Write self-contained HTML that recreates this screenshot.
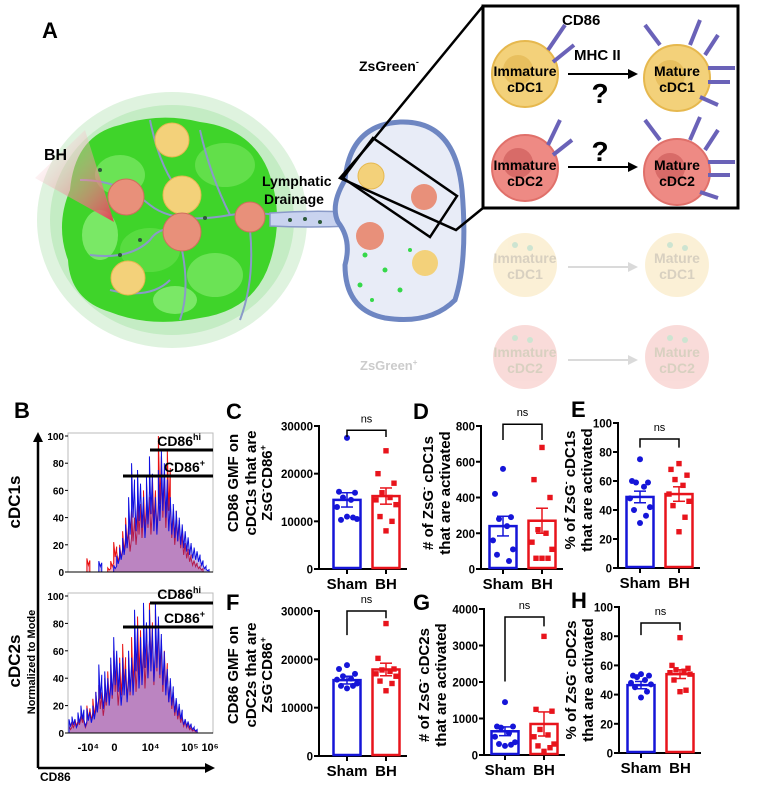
<!DOCTYPE html>
<html><head><meta charset="utf-8"><style>
html,body{margin:0;padding:0;background:#fff;}
svg{display:block;font-family:"Liberation Sans",Arial,sans-serif;}
.b{font-weight:bold;}
</style></head><body>
<svg id="fig" width="763" height="785" viewBox="0 0 763 785">
<g>
<text x="42" y="38" class="b" font-size="22">A</text>
<ellipse cx="172" cy="220" rx="135" ry="128" fill="#dff3df"/>
<ellipse cx="172" cy="220" rx="122" ry="115" fill="#c4ecc4"/>
<path d="M70 190 Q75 135 120 125 Q160 112 200 122 Q250 128 268 170 Q285 215 270 262 Q255 310 200 318 Q150 328 110 312 Q70 300 68 260 Q55 225 70 190Z" fill="#3fd42a"/>
<ellipse cx="120" cy="175" rx="25" ry="20" fill="#6be355"/><ellipse cx="225" cy="165" rx="30" ry="22" fill="#62df4a"/>
<ellipse cx="150" cy="250" rx="30" ry="22" fill="#58dc40"/><ellipse cx="215" cy="275" rx="28" ry="22" fill="#6be355"/>
<ellipse cx="100" cy="235" rx="18" ry="25" fill="#7ae866"/><ellipse cx="175" cy="300" rx="22" ry="14" fill="#7ae866"/>
<g stroke="#8a9ac8" stroke-width="2" fill="none">
<path d="M80 180 Q120 180 150 205 Q175 225 230 215 Q260 210 290 218 L350 220"/>
<path d="M90 255 Q130 260 150 240 Q160 225 182 230"/>
<path d="M150 120 Q160 170 182 195"/><path d="M200 130 Q210 175 230 215"/>
<path d="M182 250 Q190 290 180 320"/><path d="M250 230 Q255 280 240 320"/>
<path d="M110 290 Q150 300 170 280"/>
</g>
<path d="M270 213 Q310 210 350 212 L350 226 Q310 228 270 226Z" fill="#c9d3ef" stroke="#8a9ac8" stroke-width="1.5"/>
<g fill="#2d5a3a"><circle cx="290" cy="220" r="2"/><circle cx="305" cy="219" r="2"/><circle cx="320" cy="222" r="2"/><circle cx="205" cy="218" r="2"/><circle cx="120" cy="255" r="2"/><circle cx="140" cy="240" r="2"/><circle cx="100" cy="170" r="2"/></g>
<defs><linearGradient id="bhg" x1="0" y1="0" x2="1" y2="1"><stop offset="0" stop-color="#fff" stop-opacity="0"/><stop offset="1" stop-color="#e04050"/></linearGradient></defs>
<path d="M35 178 L85 130 L114 222Z" fill="url(#bhg)"/>
<text x="44" y="160" class="b" font-size="16">BH</text>
<g>
<circle cx="172" cy="140" r="17" fill="#f3d17a" stroke="#e6b84e"/><circle cx="182" cy="195" r="19" fill="#f3d17a" stroke="#e6b84e"/>
<circle cx="126" cy="197" r="18" fill="#e8907a" stroke="#cf6e5c"/><circle cx="182" cy="232" r="19" fill="#e8907a" stroke="#cf6e5c"/>
<circle cx="250" cy="217" r="15" fill="#e8907a" stroke="#cf6e5c"/><circle cx="128" cy="278" r="17" fill="#f3d17a" stroke="#e6b84e"/>
</g>
<text x="262" y="186" class="b" font-size="14">Lymphatic</text>
<text x="264" y="204" class="b" font-size="14">Drainage</text>
<path d="M345 180 Q350 125 400 122 Q455 120 462 190 Q468 260 455 300 Q430 325 385 318 Q345 310 345 265 Q352 240 338 222 Q330 205 345 180Z" fill="#e8ecf7" stroke="#6e86c2" stroke-width="5"/>
<g fill="#35d84a"><circle cx="365" cy="255" r="2.5"/><circle cx="385" cy="270" r="2.5"/><circle cx="360" cy="285" r="2.5"/><circle cx="400" cy="290" r="2.5"/><circle cx="372" cy="300" r="2"/><circle cx="410" cy="250" r="2"/></g>
<circle cx="371" cy="176" r="13" fill="#f3d17a" stroke="#e6b84e"/><circle cx="424" cy="197" r="13" fill="#e8907a"/><circle cx="370" cy="236" r="14" fill="#e8907a"/><circle cx="425" cy="263" r="13" fill="#f3d17a"/>
<polygon points="483,6 738,6 738,208 483,208" fill="#fff" stroke="#000" stroke-width="3"/>
<polyline points="483,6 373,140 340,178 456,230 483,208" fill="none" stroke="#000" stroke-width="2.5"/>
<polygon points="373,138 457,196 430,237 343,178" fill="none" stroke="#000" stroke-width="2.5"/>
<text x="359" y="71" class="b" font-size="14">ZsGreen<tspan font-size="9" dy="-6">-</tspan></text>
<text x="562" y="25" class="b" font-size="15">CD86</text>
<text x="574" y="60" class="b" font-size="15">MHC II</text>
<g>
<circle cx="525" cy="74" r="33" fill="#f3d17a" stroke="#e6b84e" stroke-width="2"/><circle cx="518" cy="70" r="15" fill="#e8bf5e"/>
<circle cx="677" cy="78" r="33" fill="#f3d17a" stroke="#e6b84e" stroke-width="2"/><circle cx="670" cy="75" r="15" fill="#e8bf5e"/>
<circle cx="525" cy="168" r="33" fill="#ee8a84" stroke="#e0706a" stroke-width="2"/><circle cx="518" cy="163" r="15" fill="#d86b68"/>
<circle cx="677" cy="172" r="33" fill="#ee8a84" stroke="#e0706a" stroke-width="2"/><circle cx="670" cy="168" r="15" fill="#d86b68"/>
<g stroke="#6a62b8" stroke-width="4"><line x1="548" y1="50" x2="565" y2="25"/><line x1="553" y1="62" x2="574" y2="45"/><line x1="660" y1="45" x2="645" y2="25"/><line x1="690" y1="45" x2="700" y2="20"/><line x1="705" y1="55" x2="718" y2="35"/><line x1="708" y1="68" x2="735" y2="68"/><line x1="708" y1="82" x2="730" y2="82"/><line x1="700" y1="97" x2="718" y2="105"/>
<line x1="548" y1="145" x2="560" y2="120"/><line x1="553" y1="155" x2="572" y2="140"/><line x1="660" y1="140" x2="645" y2="120"/><line x1="690" y1="140" x2="700" y2="117"/><line x1="705" y1="150" x2="718" y2="130"/><line x1="708" y1="162" x2="735" y2="162"/><line x1="708" y1="175" x2="730" y2="175"/><line x1="700" y1="192" x2="718" y2="198"/></g>
</g>
<g class="b" font-size="14" text-anchor="middle">
<text x="525" y="76">Immature</text><text x="525" y="92">cDC1</text>
<text x="677" y="76">Mature</text><text x="677" y="92">cDC1</text>
<text x="525" y="170">Immature</text><text x="525" y="186">cDC2</text>
<text x="677" y="170">Mature</text><text x="677" y="186">cDC2</text>
</g>
<g stroke="#000" stroke-width="2"><line x1="568" y1="74" x2="628" y2="74"/><line x1="568" y1="167" x2="628" y2="167"/></g>
<polygon points="628,69 638,74 628,79" fill="#000"/><polygon points="628,162 638,167 628,172" fill="#000"/>
<text x="600" y="103" class="b" font-size="28" text-anchor="middle">?</text>
<text x="600" y="161" class="b" font-size="28" text-anchor="middle">?</text>
<g>
<g opacity="0.3">
<circle cx="525" cy="265" r="32" fill="#f3d17a"/><circle cx="677" cy="265" r="32" fill="#f3d17a"/>
<circle cx="525" cy="357" r="32" fill="#ee8a84"/><circle cx="677" cy="357" r="32" fill="#ee8a84"/>
<g fill="#5ca86a"><circle cx="515" cy="245" r="3"/><circle cx="530" cy="248" r="3"/><circle cx="670" cy="245" r="3"/><circle cx="685" cy="248" r="3"/><circle cx="515" cy="338" r="3"/><circle cx="530" cy="340" r="3"/><circle cx="670" cy="338" r="3"/><circle cx="685" cy="340" r="3"/></g>
<g stroke="#888" stroke-width="2"><line x1="568" y1="267" x2="628" y2="267"/><line x1="568" y1="360" x2="628" y2="360"/></g>
<polygon points="628,262 638,267 628,272" fill="#888"/><polygon points="628,355 638,360 628,365" fill="#888"/>
</g>
<g fill="#d8d0c0" class="b" font-size="14" text-anchor="middle"><text x="525" y="263">Immature</text><text x="525" y="279">cDC1</text><text x="677" y="263">Mature</text><text x="677" y="279">cDC1</text><text x="525" y="357">Immature</text><text x="525" y="373">cDC2</text><text x="677" y="357">Mature</text><text x="677" y="373">cDC2</text></g>
</g>
<text x="360" y="370" font-size="13" class="b" fill="#ccc">ZsGreen<tspan font-size="8" dy="-5">+</tspan></text>
</g>

<g id="hist">
<text x="14" y="418" class="b" font-size="22">B</text>
<text class="b" font-size="17" transform="translate(20,502) rotate(-90)" text-anchor="middle">cDC1s</text>
<text class="b" font-size="17" transform="translate(20,661) rotate(-90)" text-anchor="middle">cDC2s</text>
<text class="b" font-size="11" transform="translate(35,662) rotate(-90)" text-anchor="middle">Normalized to Mode</text>
<text x="40" y="781" class="b" font-size="12">CD86</text>
<line x1="38" y1="768" x2="38" y2="440" stroke="#000" stroke-width="2.5"/>
<polygon points="33,442 38,432 43,442" fill="#000"/>
<line x1="38" y1="768" x2="206" y2="768" stroke="#000" stroke-width="2.5"/>
<polygon points="205,763 215,768 205,773" fill="#000"/>
</g>

<g id="charts"></g>
</svg>
<script>
const NS="http://www.w3.org/2000/svg";
function mk(tag,attrs,parent,txt){const e=document.createElementNS(NS,tag);for(const k in attrs)e.setAttribute(k,attrs[k]);if(txt!==undefined)e.textContent=txt;parent.appendChild(e);return e;}

const histTicksY=[0,20,40,60,80,100];
const histTicksX=["-10\u2074","0","10\u2074","10\u2075","10\u2076"];
const histTickXPos=[0.14,0.32,0.57,0.84,0.98];
const cdc1Blue=[0,0,0,0,0,0,0,0,0,0,8,0,0,0,0,5,12,18,25,35,55,80,60,75,65,50,70,85,60,55,75,90,80,60,55,50,45,40,35,30,25,20,18,15,10,5,2,0];
const cdc1Red=[0,0,0,0,0,0,10,0,0,0,0,0,0,3,8,22,15,20,30,40,30,45,40,55,50,60,65,55,70,60,100,80,65,90,50,40,45,35,25,20,15,10,8,5,3,0,0,0];
const cdc2Blue=[10,12,8,15,20,10,18,15,20,30,50,35,45,40,55,70,60,40,55,45,60,55,90,65,70,95,80,90,75,95,85,70,55,45,40,30,25,20,12,10,8,5,3,0,0,0,0,0];
const cdc2Red=[5,8,10,12,15,8,20,18,25,30,35,25,40,45,50,60,40,55,65,50,55,70,60,85,75,65,80,95,70,90,80,60,60,45,35,25,20,15,10,8,5,3,2,0,0,0,0,0];

function drawHist(g,top,bot,blue,red,hiY,posY,showX,name){
  const x0=68,x1=213;
  const box=mk('rect',{x:x0,y:top-3,width:x1-x0,height:bot-top+3,fill:'#fff',stroke:'#bbb','stroke-width':1},g);
  
  
  const ys=v=>bot-(v/100)*(bot-top);
  const n=blue.length, bw=(x1-x0-2)/n;
  [[red,'#e81010'],[blue,'#1010e0']].forEach(([arr,col],si)=>{
    let d=`M${x0+1} ${bot}`;
    arr.forEach((v,i)=>{const xa=x0+1+i*bw;d+=` L${xa} ${ys(v)} L${xa+bw*0.5} ${ys(v*0.5)} L${xa+bw} ${ys(v*0.85)}`;});
    d+=` L${x1-1} ${bot}Z`;
    const p=mk('path',{d:d,fill:si?'#5030c0':'#e02050','fill-opacity':0.35,stroke:col,'stroke-width':1},g);
    
    
  });
  histTicksY.forEach(t=>{
    const y=ys(t);
    mk('line',{x1:x0-3,y1:y,x2:x0,y2:y,stroke:'#000'},g);
    const tl=mk('text',{x:x0-4,y:y+4,'text-anchor':'end','font-size':10,'font-weight':'bold'},g,t);
    
    
  });
  mk('line',{x1:x0,y1:bot,x2:x1,y2:bot,stroke:'#000'},g);
  if(showX){histTicksX.forEach((t,i)=>{
    const tl=mk('text',{x:x0+histTickXPos[i]*(x1-x0),y:bot+18,'text-anchor':'middle','font-size':11,'font-weight':'bold'},g,t);
    
    
  });}
  const hl=mk('line',{x1:150,y1:hiY,x2:x1,y2:hiY,stroke:'#000','stroke-width':3},g);
  
  
  const pl=mk('line',{x1:123,y1:posY,x2:x1,y2:posY,stroke:'#000','stroke-width':3},g);
  
  
  const t1=mk('text',{x:x1-12,y:hiY-4,'text-anchor':'end','font-size':14,'font-weight':'bold'},g,'CD86');
  mk('tspan',{'font-size':9,dy:-6},t1,'hi');
  const t2=mk('text',{x:x1-8,y:posY-4,'text-anchor':'end','font-size':14,'font-weight':'bold'},g,'CD86');
  mk('tspan',{'font-size':9,dy:-6},t2,'+');
}
const hg=document.getElementById('hist');
drawHist(hg,436,572,cdc1Blue,cdc1Red,450,476,false,'cdc1');
drawHist(hg,596,733,cdc2Blue,cdc2Red,603,627,true,'cdc2');

const groups=["Sham","BH"];
const cMeans=[14500,15300], cSem=[1500,1700];
const cSham=[27500,16200,16000,15000,14500,13000,10500,10300,10800,11000];
const cBH=[24800,20000,18000,16000,15000,14500,13500,11000,10000,8000];
const cTicks=[0,10000,20000,30000];
const dMeans=[240,270], dSem=[55,70];
const dSham=[560,420,290,280,240,160,110,80,45];
const dBH=[680,500,400,220,200,150,110,60,60,60];
const dTicks=[0,200,400,600,800];
const eMeans=[49,51], eSem=[4,5];
const eSham=[75,60,59,59,56,48,42,40,36,31];
const eBH=[72,68,64,61,57,51,46,43,35,25];
const eTicks=[0,20,40,60,80,100];
const fMeans=[15700,17900], fSem=[800,1300];
const fSham=[18800,18000,17000,16500,16000,15800,15000,14500,14500,14000];
const fBH=[27400,20200,18000,17800,17500,17000,16500,15500,15000,13500];
const fTicks=[0,10000,20000,30000];
const gMeans=[650,850], gSem=[120,330];
const gSham=[1450,780,780,750,600,500,350,300,280,250];
const gBH=[3250,1250,1200,700,550,500,300,250,200,100];
const gTicks=[0,1000,2000,3000,4000];
const hMeans=[46.5,54], hSem=[2.5,3];
const hSham=[54,53,53,52,50,48,47,45,42,38];
const hBH=[79,60,58,57,56,55,54,50,43,42];
const hTicks=[0,20,40,60,80,100];

const cg=document.getElementById('charts');
function chart(o){
  const g=mk('g',{},cg);
  
  
  const yMax=o.ticks[o.ticks.length-1];
  const ys=v=>o.y0-(v/yMax)*(o.y0-o.y1);
  const bw=27, cx=[o.ax+o.off[0], o.ax+o.off[1]];
  const xs=i=>cx[i];
  const lab=mk('text',{x:o.lx,y:o.ly,'font-size':22,'font-weight':'bold'},g,o.id.toUpperCase());
  
  
  mk('line',{x1:o.ax,y1:o.y1-1,x2:o.ax,y2:o.y0,stroke:'#000','stroke-width':2},g);
  mk('line',{x1:o.ax,y1:o.y0,x2:cx[1]+21,y2:o.y0,stroke:'#000','stroke-width':2},g);
  o.ticks.forEach(t=>{
    mk('line',{x1:o.ax-5,y1:ys(t),x2:o.ax,y2:ys(t),stroke:'#000','stroke-width':2},g);
    const tl=mk('text',{x:o.ax-6,y:ys(t)+4.5,'text-anchor':'end','font-size':11.5,'font-weight':'bold'},g,t);
    
    
  });
  const cols=['#1515d8','#e8141c'];
  const pts=[o.sham,o.bh];
  groups.forEach((gname,i)=>{
    const x=xs(i);
    mk('line',{x1:x,y1:o.y0,x2:x,y2:o.y0+5,stroke:'#000','stroke-width':2},g);
    const xl=mk('text',{x:x,y:o.y0+20,'text-anchor':'middle','font-size':15,'font-weight':'bold'},g,gname);
    
    
    const b=mk('rect',{x:x-bw/2,y:ys(o.means[i]),width:bw,height:o.y0-ys(o.means[i])-1,fill:'#fff',stroke:cols[i],'stroke-width':2.5},g);
    
    
    const top=ys(o.means[i]+o.sem[i]), btm=ys(o.means[i]-o.sem[i]);
    mk('line',{x1:x,y1:top,x2:x,y2:btm,stroke:cols[i],'stroke-width':1.5},g);
    mk('line',{x1:x-6,y1:top,x2:x+6,y2:top,stroke:cols[i],'stroke-width':1.5},g);
    mk('line',{x1:x-6,y1:btm,x2:x+6,y2:btm,stroke:cols[i],'stroke-width':1.5},g);
    const offs=[0,-8,8,-4,4,-10,10,-6,6,0];
    pts[i].forEach((v,j)=>{
      const px=x+offs[j%offs.length];
      let m;
      if(i===0) m=mk('circle',{cx:px,cy:ys(v),r:3,fill:cols[i]},g);
      else m=mk('rect',{x:px-2.7,y:ys(v)-2.7,width:5.4,height:5.4,fill:cols[i]},g);
      
      
    });
  });
  const br=mk('path',{d:`M${xs(0)} ${ys(o.br[1])} L${xs(0)} ${ys(o.br[0])} L${xs(1)} ${ys(o.br[0])} L${xs(1)} ${ys(o.br[2])}`,fill:'none',stroke:'#000','stroke-width':1.5},g);
  
  
  const ns=mk('text',{x:(xs(0)+xs(1))/2,y:ys(o.br[0])-8,'text-anchor':'middle','font-size':11},g,'ns');
  
  
  o.title.forEach((ln,k)=>{
    const t=mk('text',{transform:`translate(${o.tx[k]},${o.ty}) rotate(-90)`,'text-anchor':'middle','font-size':15,'font-weight':'bold'},g);
    
    
    ln.forEach(seg=>{
      const a={};
      if(seg[1]) a['font-size']=9;
      if(seg[2]) a.dy=seg[2];
      mk('tspan',a,t,seg[0]);
    });
  });
}
const T1=[[["CD86 GMF on"]],[["cDC1s that are"]],[["ZsG"],["-",true,-6],["CD86",false,6],["+",true,-6]]];
const T2=[[["CD86 GMF on"]],[["cDC2s that are"]],[["ZsG"],["-",true,-6],["CD86",false,6],["+",true,-6]]];
const tD=[[["# of ZsG"],["-",true,-6],[" cDC1s",false,6]],[["that are activated"]]];
const tE=[[["% of ZsG"],["-",true,-6],[" cDC1s",false,6]],[["that are activated"]]];
const tG=[[["# of ZsG"],["-",true,-6],[" cDC2s",false,6]],[["that are activated"]]];
const tH=[[["% of ZsG"],["-",true,-6],[" cDC2s",false,6]],[["that are activated"]]];
chart({id:'c',ax:319,off:[28,67],y0:569,y1:426,ticks:cTicks,means:cMeans,sem:cSem,sham:cSham,bh:cBH,br:[29100,27700,27700],lx:226,ly:419,title:T1,tx:[238,256,272],ty:483});
chart({id:'d',ax:481,off:[22,61],y0:569,y1:426,ticks:dTicks,means:dMeans,sem:dSem,sham:dSham,bh:dBH,br:[810,722,722],lx:413,ly:419,title:tD,tx:[433,450],ty:493});
chart({id:'e',ax:618,off:[22,61],y0:568,y1:423,ticks:eTicks,means:eMeans,sem:eSem,sham:eSham,bh:eBH,br:[89,83,83],lx:571,ly:417,title:tE,tx:[575,592],ty:490});
chart({id:'f',ax:319,off:[28,67],y0:756,y1:611,ticks:fTicks,means:fMeans,sem:fSem,sham:fSham,bh:fBH,br:[30000,25000,28500],lx:226,ly:610,title:T2,tx:[238,256,272],ty:675});
chart({id:'g',ax:484,off:[21,60],y0:755,y1:609,ticks:gTicks,means:gMeans,sem:gSem,sham:gSham,bh:gBH,br:[3780,2014,3524],lx:413,ly:610,title:tG,tx:[429,446],ty:685});
chart({id:'h',ax:619,off:[22,61],y0:753,y1:607,ticks:hTicks,means:hMeans,sem:hSem,sham:hSham,bh:hBH,br:[89,80.7,84],lx:571,ly:608,title:tH,tx:[576,593],ty:680});
</script>
</body></html>
